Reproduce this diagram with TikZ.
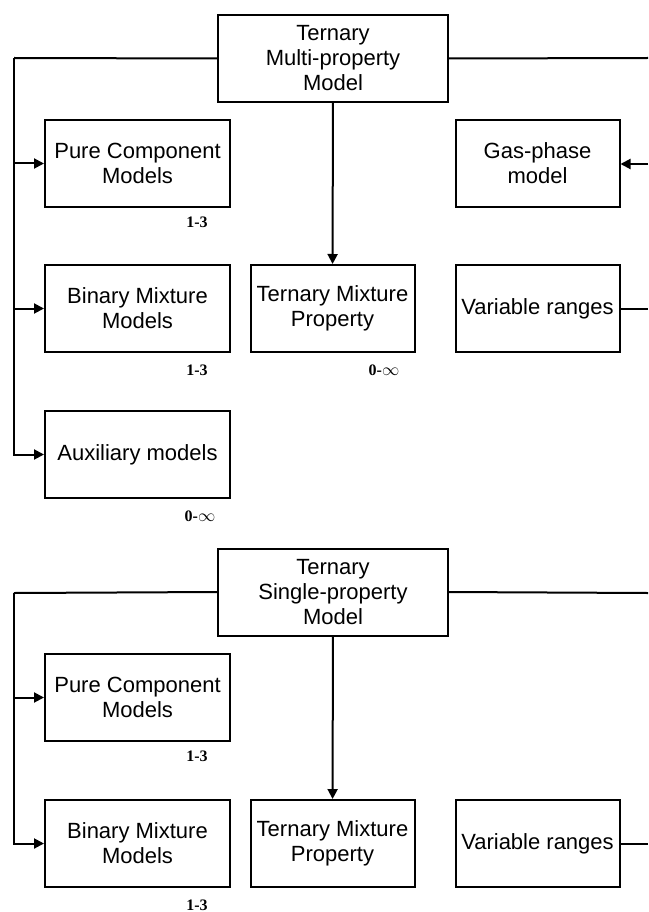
\documentclass[tikz,border=0pt]{standalone}
\usepackage{fontspec}
\setmainfont{Liberation Sans}
\newfontfamily\numfont{Liberation Serif}
\usetikzlibrary{arrows.meta}
\tikzset{
  box/.style={draw,line width=2pt,inner sep=0pt,align=center,
    font=\fontsize{22}{25}\selectfont},
  wide/.style={box,minimum width=185pt,minimum height=87pt},
  mid/.style={box,minimum width=164pt,minimum height=87pt},
  head/.style={box,minimum width=230pt,minimum height=87pt},
  count/.style={font=\numfont\bfseries\fontsize{16}{18}\selectfont,inner sep=0pt},
  link/.style={line width=2pt},
  arr/.style={link,-{Triangle[length=10pt,width=10pt]}}
}
\begin{document}
\begin{tikzpicture}[x=1pt,y=1pt]
\useasboundingbox (0,0) rectangle (648,-912);
% multi-property model
\node[head] (t1) at (333,-58.5) {Ternary\\Multi-property\\Model};
\node[wide] (p1) at (137.5,-163.5) {Pure Component\\Models};
\node[wide] (b1) at (137.5,-308.5) {Binary Mixture\\Models};
\node[wide] (x1) at (137.5,-454.5) {Auxiliary models};
\node[mid] (m1) at (332.5,-308.5) {Ternary Mixture\\Property};
\node[mid] (g1) at (537.5,-163.5) {Gas-phase\\model};
\node[mid] (v1) at (537.5,-308.5) {Variable ranges};
\node[count] (n1) at (197,-222) {1-3};
\node[count] (n2) at (197,-370) {1-3};
\node[count] (n3) at (384,-370) {0-$\infty$};
\node[count] (n4) at (200,-516) {0-$\infty$};
\coordinate (l1) at (14,-58);
\coordinate (r1) at (648,-58);
\coordinate (r2) at (648,-164);
\coordinate (r3) at (648,-308.5);
\draw[link] (t1.west) -- (l1);
\draw[arr] (l1) |- (p1);
\draw[arr] (l1) |- (b1);
\draw[arr] (l1) |- (x1);
\draw[arr] (t1) -- (m1);
\draw[link] (t1.east) -- (r1);
\draw[arr] (r2) -- (g1.east |- r2);
\draw[link] (v1.east) -- (r3);
% single-property model
\node[head] (t2) at (333,-592) {Ternary\\Single-property\\Model};
\node[wide] (p2) at (137.5,-697.5) {Pure Component\\Models};
\node[wide] (b2) at (137.5,-843.5) {Binary Mixture\\Models};
\node[mid] (m2) at (332.5,-843.5) {Ternary Mixture\\Property};
\node[mid] (v2) at (537.5,-843.5) {Variable ranges};
\node[count] (n5) at (197,-756) {1-3};
\node[count] (n6) at (197,-905) {1-3};
\coordinate (l2) at (14,-593);
\coordinate (r4) at (648,-593);
\coordinate (r5) at (648,-843.5);
\draw[link] (t2.west) -- (l2);
\draw[arr] (l2) |- (p2);
\draw[arr] (l2) |- (b2);
\draw[arr] (t2) -- (m2);
\draw[link] (t2.east) -- (r4);
\draw[link] (v2.east) -- (r5);
\end{tikzpicture}
\end{document}
